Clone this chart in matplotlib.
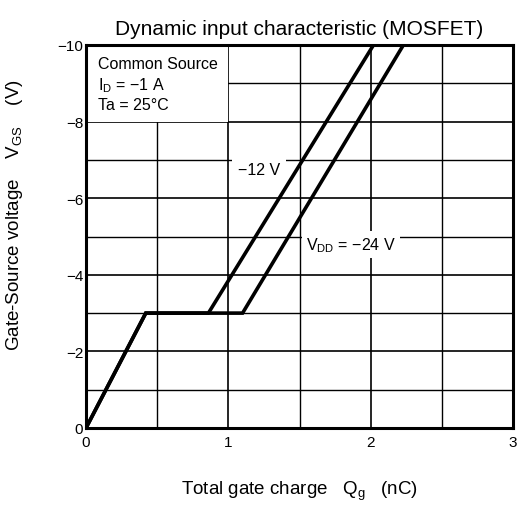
import matplotlib
matplotlib.use('Agg')
import matplotlib.pyplot as plt
from matplotlib.patches import Rectangle

plt.rcParams['font.family'] = ['Liberation Sans', 'DejaVu Sans']
plt.rcParams['mathtext.fontset'] = 'custom'
plt.rcParams['mathtext.rm'] = 'Liberation Sans'
plt.rcParams['mathtext.it'] = 'Liberation Sans'

# curve data (Qg in nC, VGS in V)
Q_12 = [0, 0.42, 0.86, 2.02]
V_12 = [0, -3, -3, -10]
Q_24 = [0, 0.42, 1.10, 2.23]
V_24 = [0, -3, -3, -10]

xticks = [0, 1, 2, 3]
yticks = [0, -2, -4, -6, -8, -10]
ytick_labels = ['0', '\u22122', '\u22124', '\u22126', '\u22128', '\u221210']

fig = plt.figure(figsize=(5.18, 5.06), dpi=100)
ax = fig.add_axes([86 / 518, 1 - 429 / 506, 427 / 518, 383 / 506])

ax.set_xlim(0, 3)
ax.set_ylim(0, -10)

ax.set_xticks(xticks)
ax.set_xticklabels([str(t) for t in xticks], fontsize=11)
ax.set_yticks(yticks)
ax.set_yticklabels(ytick_labels, fontsize=11)
ax.set_xticks([0.5, 1.5, 2.5], minor=True)
ax.set_yticks([-1, -3, -5, -7, -9], minor=True)
ax.tick_params(which='both', length=0)
ax.tick_params(axis='x', pad=5)
ax.tick_params(axis='y', pad=2)
ax.grid(which='major', color='black', linewidth=1.2, zorder=1)
ax.grid(which='minor', color='black', linewidth=1.0, zorder=1)
ax.set_axisbelow(True)
for s in ax.spines.values():
    s.set_linewidth(2.2)
    s.set_zorder(6)

# white panel for the conditions text
ax.add_patch(Rectangle((0, -10), 1, 2, facecolor='white', edgecolor='none', zorder=2))
ax.text(0.084, -9.72, 'Common Source\n$\\mathregular{I_D}$ = \u22121 A\nTa = 25\u00b0C',
        fontsize=11.5, va='top', ha='left', linespacing=1.3, zorder=3)

ax.plot(Q_12, V_12, color='black', linewidth=2.6, solid_joinstyle='miter', zorder=5)
ax.plot(Q_24, V_24, color='black', linewidth=2.6, solid_joinstyle='miter', zorder=5)

ax.text(1.068, -6.76, '\u221212 V', fontsize=11.5, ha='left', va='center', zorder=3,
        bbox=dict(facecolor='white', edgecolor='none', pad=4))
ax.text(1.546, -4.78, '$\\mathregular{V_{DD}}$ = \u221224 V', fontsize=11.5, ha='left',
        va='center', zorder=3, bbox=dict(facecolor='white', edgecolor='none', pad=3))

ax.set_title('Dynamic input characteristic (MOSFET)', fontsize=15, pad=8)
ax.set_xlabel('Total gate charge   $\\mathregular{Q_g}$   (nC)', fontsize=13.5)
ax.xaxis.set_label_coords(0.5, -0.133)
ax.set_ylabel('Gate-Source voltage    $\\mathregular{V_{GS}}$    (V)', fontsize=13.5)
ax.yaxis.set_label_coords(-0.143, 0.559)

fig.savefig('out.png', dpi=100)
